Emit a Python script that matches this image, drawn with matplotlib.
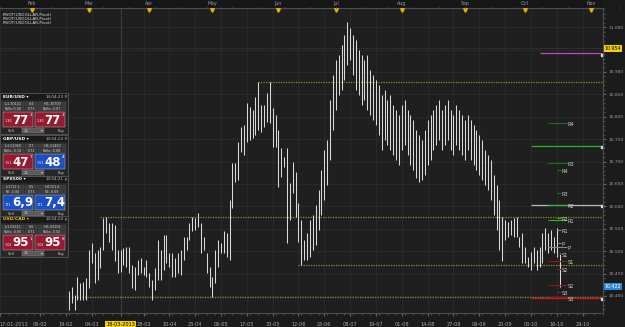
import numpy as np
import pandas as pd
import matplotlib
matplotlib.use("Agg")
import matplotlib.pyplot as plt
from matplotlib.patches import Rectangle
import matplotlib.transforms as mtransforms
from matplotlib.ticker import MultipleLocator

W, H = 625, 327

# ---------------- data ----------------
first_date = "2013-01-17"
bar_start = "2013-02-20"
highs = [10.410, 10.421, 10.402, 10.443, 10.428, 10.432, 10.440, 10.503, 10.518, 10.495,
         10.503, 10.510, 10.573, 10.577, 10.562, 10.562, 10.558, 10.503, 10.503, 10.506,
         10.510, 10.510, 10.469, 10.465,
         10.480, 10.484, 10.465, 10.480, 10.451, 10.436, 10.462, 10.525, 10.503, 10.536,
         10.536, 10.495, 10.495, 10.484, 10.495, 10.503, 10.532, 10.532, 10.562, 10.577,
         10.573, 10.586, 10.562, 10.532, 10.495, 10.465, 10.443,
         10.503, 10.525, 10.518, 10.544, 10.540, 10.614, 10.696, 10.696, 10.744, 10.778,
         10.782, 10.830, 10.822, 10.815, 10.845, 10.878, 10.826, 10.826, 10.852, 10.878,
         10.819, 10.804, 10.771, 10.730, 10.711, 10.730, 10.652, 10.700, 10.677, 10.608,
         10.570, 10.525, 10.540, 10.570,
         10.581, 10.603, 10.637, 10.681, 10.726, 10.748, 10.837, 10.893, 10.927, 10.938,
         10.960, 10.983, 11.012, 10.998, 10.983, 10.971, 10.949, 10.938, 10.927, 10.938,
         10.904, 10.893, 10.882, 10.871, 10.849, 10.860, 10.837, 10.849, 10.826, 10.815,
         10.804, 10.826, 10.837, 10.815, 10.804, 10.793, 10.771, 10.759, 10.748, 10.771,
         10.793, 10.804, 10.815, 10.826, 10.837, 10.815, 10.826, 10.837, 10.815, 10.804,
         10.826, 10.815, 10.804, 10.793, 10.804, 10.793, 10.782, 10.771, 10.759, 10.748,
         10.726, 10.715, 10.704, 10.670, 10.648, 10.614,
         10.577, 10.570, 10.566, 10.570, 10.573, 10.577, 10.532, 10.540, 10.510, 10.488,
         10.499, 10.510, 10.503, 10.510, 10.540, 10.551, 10.540, 10.547, 10.532, 10.551,
         10.495]
lows = [10.369, 10.384, 10.369, 10.391, 10.391, 10.391, 10.391, 10.417, 10.473, 10.428,
        10.436, 10.462, 10.503, 10.540, 10.521, 10.503, 10.477, 10.451, 10.454, 10.469,
        10.465, 10.451, 10.417, 10.413,
        10.447, 10.451, 10.447, 10.443, 10.421, 10.391, 10.413, 10.436, 10.436, 10.458,
        10.473, 10.465, 10.443, 10.443, 10.451, 10.447, 10.480, 10.503, 10.525, 10.544,
        10.547, 10.555, 10.495, 10.503, 10.451, 10.421, 10.398,
        10.428, 10.465, 10.495, 10.495, 10.488, 10.480, 10.596, 10.655, 10.659, 10.722,
        10.715, 10.744, 10.748, 10.752, 10.759, 10.771, 10.767, 10.778, 10.789, 10.785,
        10.733, 10.733, 10.644, 10.666, 10.689, 10.518, 10.570, 10.629, 10.577, 10.521,
        10.469, 10.480, 10.480, 10.488,
        10.503, 10.514, 10.547, 10.581, 10.614, 10.648, 10.704, 10.771, 10.815, 10.849,
        10.860, 10.882, 10.916, 10.927, 10.893, 10.860, 10.849, 10.826, 10.837, 10.815,
        10.804, 10.793, 10.782, 10.759, 10.726, 10.748, 10.737, 10.726, 10.715, 10.704,
        10.692, 10.726, 10.737, 10.715, 10.692, 10.681, 10.663, 10.654, 10.659, 10.670,
        10.692, 10.704, 10.726, 10.737, 10.748, 10.726, 10.737, 10.748, 10.726, 10.715,
        10.737, 10.726, 10.715, 10.704, 10.726, 10.704, 10.692, 10.681, 10.670, 10.659,
        10.648, 10.637, 10.614, 10.581, 10.547, 10.503,
        10.477, 10.525, 10.532, 10.536, 10.532, 10.532, 10.510, 10.473, 10.473, 10.465,
        10.458, 10.473, 10.458, 10.465, 10.473, 10.503, 10.495, 10.503, 10.495, 10.488,
        10.421]

date_labels = ["17-01-2013", "06-02", "19-02", "04-03", "18-03-2013", "28-03", "10-04",
               "23-04", "06-05", "17-05", "30-05", "12-06", "25-06", "08-07", "19-07",
               "01-08", "14-08", "27-08", "09-09", "20-09", "03-10", "16-10", "29-10"]
date_label_dates = ["2013-01-17", "2013-02-06", "2013-02-19", "2013-03-04", "2013-03-18",
                    "2013-03-28", "2013-04-10", "2013-04-23", "2013-05-06", "2013-05-17",
                    "2013-05-30", "2013-06-12", "2013-06-25", "2013-07-08", "2013-07-19",
                    "2013-08-01", "2013-08-14", "2013-08-27", "2013-09-09", "2013-09-20",
                    "2013-10-03", "2013-10-16", "2013-10-29"]
month_names = ["Feb", "Mar", "Apr", "May", "Jun", "Jul", "Aug", "Sep", "Oct", "Nov"]
month_dates = ["2013-02-01", "2013-03-01", "2013-04-01", "2013-05-01", "2013-06-03",
               "2013-07-01", "2013-08-01", "2013-09-02", "2013-10-01", "2013-11-01"]
price_ticks = [10.40, 10.45, 10.50, 10.55, 10.60, 10.65, 10.70, 10.75, 10.80, 10.85,
               10.90, 10.95, 11.00]

# horizontal dotted levels: (price, start date)
dotted_levels = [10.878, 10.576, 10.469, 10.398]
dotted_starts = ["2013-05-23", "2013-03-07", "2013-06-12", "2013-02-21"]
# long pivot lines
long_levels = [10.942, 10.735, 10.603, 10.396]
long_colors = ["#c048c0", "#22b822", "#b8b8b8", "#c81818"]
long_starts = ["2013-10-08", "2013-10-03", "2013-10-03", "2013-10-03"]
# pivot set A and B
pivot_names = ["R4", "R3", "R2", "R1", "P", "S1", "S2", "S3"]
pivot_a = [10.786, 10.697, 10.603, 10.570, 10.509, 10.478, 10.425, 10.397]
pivot_b = [10.681, 10.630, 10.574, 10.547, 10.518, 10.494, 10.460, 10.409]
pivot_colors = ["#1d6e1d", "#1d6e1d", "#27b827", "#27b827", "#888888", "#8a1c1c",
                "#8a1c1c", "#8a1c1c"]
cross_date = "2013-03-18"
cross_price = 10.954
last_price = 10.422

# ---------------- figure ----------------
fig = plt.figure(figsize=(W / 100, H / 100), dpi=100, facecolor="#1b1b1b")
ax = fig.add_axes([0, (H - 313) / H, 603 / W, (313 - 8) / H])
ax.set_facecolor("#1f1f1f")
PX = 2.87
ax.set_xlim(0, 603 / PX)
ax.set_ylim(10.362, 11.0428)

dates = pd.bdate_range(first_date, periods=260)
def idx(d):
    return float(dates.get_indexer([pd.Timestamp(d)])[0])

bar_dates = pd.bdate_range(bar_start, periods=len(highs))
bar_idx = dates.get_indexer(bar_dates)

# grid
xt = [idx(d) for d in date_label_dates]
ax.set_xticks(xt)
ax.set_xticklabels(date_labels)
ax.set_yticks(price_ticks)
ax.set_yticklabels(["%.3f" % v if abs(v - cross_price) > 0.01 else "" for v in price_ticks])
ax.grid(True, which="major", color="#2c2c2c", lw=0.6)
ax.set_axisbelow(True)
ax.xaxis.set_minor_locator(MultipleLocator(3))
ax.yaxis.set_minor_locator(MultipleLocator(0.01))
ax.yaxis.tick_right()
ax.tick_params(axis="x", which="major", length=2.5, color="#666666", labelsize=3.6,
               labelcolor="#a8a8a8", pad=4)
ax.tick_params(axis="x", which="minor", length=1.5, color="#555555")
ax.tick_params(axis="y", which="major", length=2.0, color="#666666", labelsize=3.2,
               labelcolor="#a0a0a0", pad=1.8)
ax.tick_params(axis="y", which="minor", length=1.2, color="#555555")
ax.spines["left"].set_visible(False)
for s in ["bottom", "right", "top"]:
    ax.spines[s].set_color("#4e4e4e")
    ax.spines[s].set_linewidth(0.8)

lbl = ax.get_xticklabels()[0]
lbl.set_horizontalalignment("left")
hl = ax.get_xticklabels()[4]
hl.set_color("black")
hl.set_bbox(dict(boxstyle="square,pad=0.25", fc="#f2d200", ec="none"))

# crosshair
ax.axvline(idx(cross_date) + 0.2, color="#5a5a5a", lw=0.6, ls=(0, (1, 1)))
ax.axhline(cross_price, color="#4a4a3a", lw=0.6, ls=(0, (1, 1.5)))

# dotted levels
xmax = 603 / PX
for lv, st in zip(dotted_levels, dotted_starts):
    ax.hlines(lv, idx(st), xmax, colors="#8e8e1e", lw=0.9, linestyles=(0, (1, 1)))

# bars
ax.vlines(bar_idx, lows, highs, colors="#dadada", lw=0.75)

# long pivot lines
for lv, c, st in zip(long_levels, long_colors, long_starts):
    ax.hlines(lv, idx(st), xmax - 0.4, colors=c, lw=0.9)
    ax.plot([xmax - 0.4], [lv - 0.003], marker="s", ms=1.4, color="#dddddd", clip_on=False)

# pivot sets
xa0, xa1 = 548 / PX, 567 / PX
xb0, xb1 = 557 / PX, 561 / PX
for n, lv, c in zip(pivot_names, pivot_a, pivot_colors):
    ax.hlines(lv, xa0, xa1, colors=c, lw=0.8)
    ax.text(568 / PX, lv - 0.004, n, fontsize=3.6, color="#cfcfcf", va="center", ha="left")
for n, lv, c in zip(pivot_names, pivot_b, pivot_colors):
    ax.hlines(lv, xb0, xb1, colors=c, lw=0.8)
    ax.text(562 / PX, lv - 0.004, n, fontsize=3.6, color="#cfcfcf", va="center", ha="left")

# ---------------- overlay (pixel space) ----------------
ov = fig.add_axes([0, 0, 1, 1], zorder=5)
ov.set_xlim(0, W)
ov.set_ylim(H, 0)
ov.axis("off")
ov.patch.set_alpha(0)
trans = mtransforms.blended_transform_factory(ax.transData, ov.transData)

ov.add_patch(Rectangle((0, 0), 603, 8, fc="#171717", ec="none"))
ov.plot([0, 603], [8, 8], color="#4e4e4e", lw=0.8)
for n, d in zip(month_names, month_dates):
    i = idx(d)
    ov.text(i, 3.8, n, transform=trans, fontsize=3.4, color="#9a9a9a", ha="center",
            va="center")
    ov.plot([i], [9.6], marker="v", ms=2.6, color="#e6b000", transform=trans, clip_on=False)
for k in range(0, 70):
    ov.plot([k * 3 * PX * 3, k * 3 * PX * 3], [6.8, 8], transform=ov.transData,
            color="#505050", lw=0.5)

# price highlight labels
ov.add_patch(Rectangle((604, 44.5), 18, 7, fc="#f2d200", ec="none"))
ov.text(613, 48, "%.3f" % cross_price, fontsize=3.4, color="black", ha="center",
        va="center")
ov.add_patch(Rectangle((604, 282.5), 18, 7, fc="#2d86dc", ec="none"))
ov.text(613, 286, "%.3f" % last_price, fontsize=3.4, color="white", ha="center",
        va="center")

for k, y in enumerate([14.5, 19, 23.5]):
    ov.text(3, y, "PIVOT(USDOLLAR,Pivot)", fontsize=3.0, color="#dcdcdc", va="center")

# ---------------- trading widgets ----------------
def widget(y0, name, tm, r1, r2, lb, rb, ls, rs, lsup, rsup, lc, rc, ncol):
    ov.add_patch(Rectangle((0, y0), 68, 41, fc="#262626", ec="#555555", lw=0.6))
    ov.add_patch(Rectangle((0.5, y0 + 0.5), 67, 6, fc="#1a1a1a", ec="none"))
    ov.text(3, y0 + 3.5, name + " \u25be", fontsize=3.2, color=ncol, fontweight="bold",
            va="center")
    ov.text(46, y0 + 3.5, tm, fontsize=3.0, color="#bbbbbb", va="center")
    ov.text(63, y0 + 3.5, "\u00d7", fontsize=3.4, color="#bbbbbb", va="center")
    cells = [(2, 22), (25, 12), (38, 28)]
    for ry, row in zip([y0 + 8.5, y0 + 13.5], [r1, r2]):
        for (cx, cw), t in zip(cells, row):
            ov.add_patch(Rectangle((cx, ry), cw, 4.3, fc="#3a3a3a", ec="#505050", lw=0.3))
            ov.text(cx + cw / 2, ry + 2.2, t, fontsize=2.4, color="#d0d0d0", ha="center",
                    va="center")
    for bx, big, small, sup, col in [(3, lb, ls, lsup, lc), (35, rb, rs, rsup, rc)]:
        ov.add_patch(Rectangle((bx, y0 + 19), 30, 15, fc=col, ec="#cccccc", lw=0.3))
        ov.text(bx + 1.2, y0 + 28.5, small, fontsize=2.4, color="#eeeeee", va="center")
        ov.text(bx + 9.5, y0 + 27, big, fontsize=8.5, color="white", fontweight="bold",
                va="center")
        ov.text(bx + 26.5, y0 + 22.5, sup, fontsize=3, color="white", va="center")
    ov.add_patch(Rectangle((22, y0 + 35), 22, 5, fc="#5a5a5a", ec="#888888", lw=0.3))
    ov.text(24, y0 + 37.5, "10", fontsize=2.6, color="#dddddd", va="center")
    ov.text(41, y0 + 37.5, "\u25be", fontsize=2.6, color="#dddddd", va="center")
    ov.text(8, y0 + 38, "Sell", fontsize=2.6, color="#cccccc", va="center")
    ov.text(58, y0 + 38, "Buy", fontsize=2.6, color="#cccccc", va="center")

RED, BLUE = "#981a30", "#1c4fc4"
widget(93, "EUR/USD", "14:04:23", ["L:1.30122", "0.4", "H:1.30700"],
       ["Rollo:0.00", "0.73", "Rollo:-0.07"], "77", "77", "1,30", "1,30", "2", "2",
       RED, RED, "white")
widget(135, "GBP/USD", "14:04:24", ["L:1.51060", "0.7", "H:1.51450"],
       ["Rollo:-0.14", "0.72", "Rollo:-0.08"], "47", "48", "1,51", "1,51", "7", "4",
       RED, BLUE, "white")
widget(176, "SPX500", "14:04:21", ["L:1712.1", "0.5", "H:1721.6"],
       ["Rll:-0.06", "0.73", "Rll:-0.09"], "6,9", "7,4", "171", "171", "", "",
       BLUE, BLUE, "white")
widget(216, "USD/CAD", "14:04:24", ["L:1.02611", "0.6", "H:1.03102"],
       ["Rollo:-0.05", "0.71", "Rollo:-0.02"], "95", "95", "1,02", "1,02", "1", "8",
       RED, RED, "#f0c020")

fig.savefig("out.png", dpi=100, facecolor=fig.get_facecolor())
